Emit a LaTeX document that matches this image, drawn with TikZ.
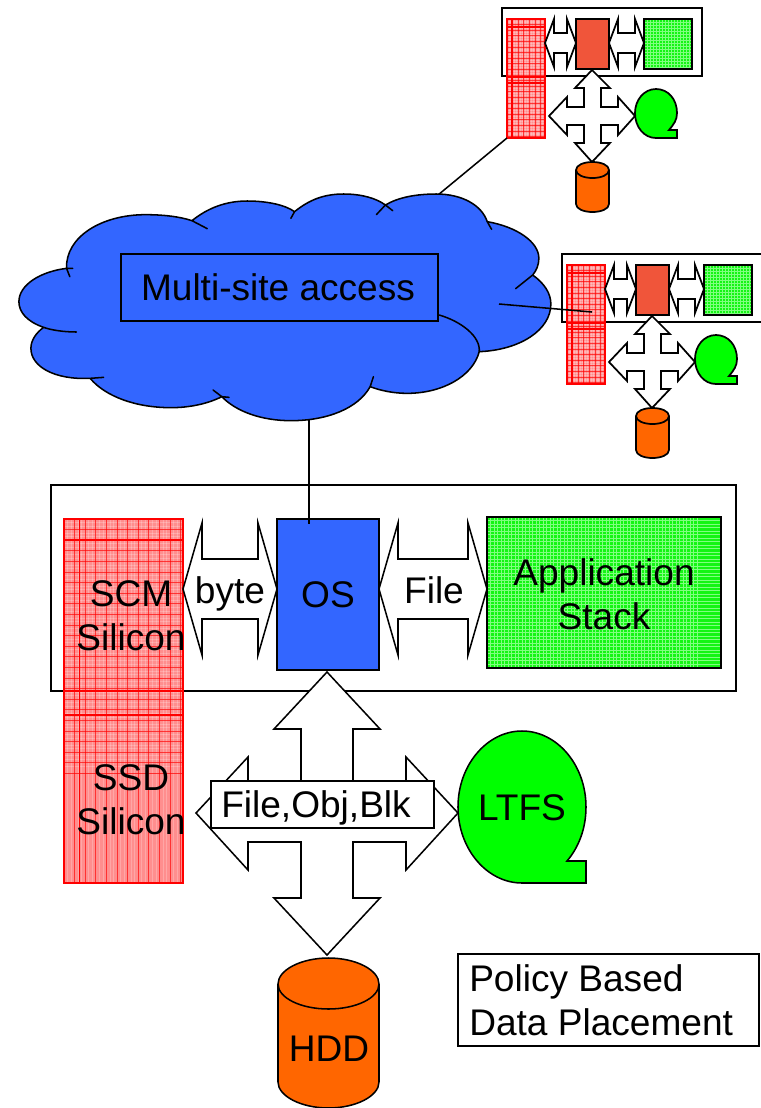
\documentclass[tikz,border=0pt]{standalone}
\usepackage{fontspec}
\setmainfont{Liberation Sans}
\definecolor{cblue}{HTML}{3366FF}
\definecolor{corange}{HTML}{FF6600}
\definecolor{cred}{HTML}{F0553A}
\definecolor{cgreen}{HTML}{00FF00}
\definecolor{tpink}{HTML}{FF8E8E}
\definecolor{tgreen}{HTML}{14F514}
\tikzset{
  line/.style={draw=black,line width=1.15pt,line join=miter},
  linebox/.style={line,fill=white},
  txt/.style={inner sep=0pt,align=center,font=\fontsize{27.8}{33}\selectfont},
  conn/.style={draw=black,line width=1.15pt},
}
% textured silicon: x1 y1 x2 y2 step
\newcommand{\siliconrect}[5]{%
  \fill[tpink] (#1,#2) rectangle (#3,#4);
  \begin{scope}
    \clip (#1,#2) rectangle (#3,#4);
    \foreach \k in {0,1,...,70} {
      \draw[white,opacity=.22,line width=.5pt] ({#1+\k*#5/3},#2) -- ({#1+\k*#5/3},#4);
      \draw[white,opacity=.22,line width=.5pt] (#1,{#2+\k*#5/3}) -- (#3,{#2+\k*#5/3});
    }
    \foreach \k in {0,1,...,24} {
      \draw[red,opacity=.7,line width=.55pt] ({#1+\k*#5},#2) -- ({#1+\k*#5},#4);
      \draw[red,opacity=.7,line width=.55pt] (#1,{#2+\k*#5}) -- (#3,{#2+\k*#5});
    }
  \end{scope}
}
\newcommand{\bandrect}[5]{%
  \fill[tgreen] (#1,#2) rectangle (#3,#4);
  \begin{scope}
    \clip (#1,#2) rectangle (#3,#4);
    \foreach \k in {0,1,...,60} {
      \draw[green!50!white,line width=.5pt] ({#1+\k*#5},#2) -- ({#1+\k*#5},#4);
      \draw[green!50!white,line width=.5pt] (#1,{#2+\k*#5}) -- (#3,{#2+\k*#5});
    }
  \end{scope}
  \draw[line] (#1,#2) rectangle (#3,#4);
}
% double arrow: x1 x2 ymid headdepth halfhead halfshaft
\newcommand{\twoway}[6]{%
  \draw[linebox] (#1,#3) -- ({#1+#4},{#3-#5}) -- ({#1+#4},{#3-#6}) -- ({#2-#4},{#3-#6}) -- ({#2-#4},{#3-#5})
    -- (#2,#3) -- ({#2-#4},{#3+#5}) -- ({#2-#4},{#3+#6}) -- ({#1+#4},{#3+#6}) -- ({#1+#4},{#3+#5}) -- cycle;
}
% small assembly, arg = name suffix
\newcommand{\minisite}[1]{%
  \tikzset{line/.append style={line width=1.3pt}}
  \coordinate (minibox#1) at (502,8);
  \draw[line] (502,8) rectangle (702,76);
  \siliconrect{507}{19}{545}{138}{5.6}
  \draw[red,line width=1.2pt] (507,19) rectangle (545,138);
  \draw[red,line width=1.1pt] (512,19) -- (512,138) (507,27) -- (545,27) (507,77) -- (545,77) (507,83) -- (545,83);
  \coordinate (minired#1) at (507,138);
  \twoway{545}{576}{43}{9}{24}{10}
  \path[line,fill=cred] (576,19) rectangle (609,69);
  \twoway{609}{644}{43}{9}{24}{10}
  \bandrect{644}{19}{692}{69}{3}
  \draw[linebox] (592,70) -- (610,88) -- (601,88) -- (601,107) -- (618,107) -- (618,97) -- (635,116)
    -- (618,135) -- (618,125) -- (601,125) -- (601,143) -- (610,143) -- (592,162) -- (575,143)
    -- (584,143) -- (584,125) -- (567,125) -- (567,135) -- (549,116) -- (567,97) -- (567,107)
    -- (584,107) -- (584,88) -- (575,88) -- cycle;
  \draw[line,fill=cgreen] (656,138) -- (677,138) -- (677,130) -- (669,130)
    .. controls (674,124) and (677,120) .. (677,113)
    .. controls (677,99) and (668,89) .. (656,89)
    .. controls (644,89) and (635,100) .. (635,113)
    .. controls (635,127) and (644,138) .. (656,138) -- cycle;
  \draw[line,fill=corange] (576,170) -- (576,204)
    .. controls (576,209) and (584,212) .. (592.5,212)
    .. controls (601,212) and (609,209) .. (609,204) -- (609,170)
    .. controls (609,165) and (601,162) .. (592.5,162)
    .. controls (584,162) and (576,165) .. (576,170) -- cycle;
  \draw[line] (576,170) .. controls (576,175) and (584,178) .. (592.5,178)
    .. controls (601,178) and (609,175) .. (609,170);
}
\begin{document}
\begin{tikzpicture}[x=0.75pt,y=-0.75pt]
\useasboundingbox (0,0) rectangle (761,1108);
\fill[white] (0,0) rectangle (761,1108);

% top connector
\coordinate (cloudtop) at (438,195);

% small assemblies
\begin{scope}
  \minisite{a}
\end{scope}
\begin{scope}[shift={(60,246)}]
  \minisite{b}
  \coordinate (minitarget) at (532,66);
\end{scope}
\draw[conn] (cloudtop) -- (minireda);

% cloud (coordinates in cloud-local units)
\begin{scope}[x=0.2727pt,y=-0.25pt,yshift=-135pt]
  \path[fill=cblue] (183,265)
    .. controls (180,170) and (280,104) .. (400,104)
    .. controls (450,104) and (495,110) .. (528,122)
    .. controls (570,85) and (620,63) .. (680,63)
    .. controls (735,63) and (785,75) .. (810,95)
    .. controls (850,60) and (890,42) .. (945,42)
    .. controls (995,42) and (1035,55) .. (1060,75)
    .. controls (1095,52) and (1145,42) .. (1200,42)
    .. controls (1270,42) and (1325,75) .. (1340,125)
    .. controls (1420,140) and (1482,185) .. (1482,235)
    .. controls (1482,255) and (1475,272) .. (1465,285)
    .. controls (1497,310) and (1515,340) .. (1515,372)
    .. controls (1515,450) and (1430,510) .. (1318,515)
    .. controls (1300,590) and (1215,640) .. (1120,640)
    .. controls (1085,640) and (1050,633) .. (1018,620)
    .. controls (985,685) and (900,722) .. (800,722)
    .. controls (720,722) and (650,695) .. (610,650)
    .. controls (570,672) and (520,683) .. (470,683)
    .. controls (375,683) and (290,650) .. (248,595)
    .. controls (150,600) and (85,560) .. (85,505)
    .. controls (85,480) and (100,458) .. (120,442)
    .. controls (75,425) and (52,397) .. (52,365)
    .. controls (52,315) and (110,275) .. (183,265) -- cycle;
  \draw[conn,line cap=round]
    (192,290) -- (183,265) .. controls (180,170) and (280,104) .. (400,104)
    .. controls (450,104) and (495,110) .. (528,122) -- (570,146)
    (528,122) .. controls (570,85) and (620,63) .. (680,63)
    .. controls (735,63) and (785,75) .. (810,95) -- (800,115)
    (810,95) .. controls (850,60) and (890,42) .. (945,42)
    .. controls (995,42) and (1035,55) .. (1060,75) -- (1080,92)
    (1035,104) -- (1060,75) .. controls (1095,52) and (1145,42) .. (1200,42)
    .. controls (1270,42) and (1325,75) .. (1340,125) -- (1352,148)
    (1340,125) .. controls (1420,140) and (1482,185) .. (1482,235)
    .. controls (1482,255) and (1475,272) .. (1465,285) -- (1418,326)
    (1465,285) .. controls (1497,310) and (1515,340) .. (1515,372)
    .. controls (1515,450) and (1430,510) .. (1318,515)
    (1208,405) .. controls (1270,425) and (1322,470) .. (1318,515)
    .. controls (1300,590) and (1215,640) .. (1120,640)
    .. controls (1085,640) and (1050,633) .. (1018,620) -- (1027,590)
    (1018,620) .. controls (985,685) and (900,722) .. (800,722)
    .. controls (720,722) and (650,695) .. (610,650) -- (586,630)
    (630,652) -- (610,650) .. controls (570,672) and (520,683) .. (470,683)
    .. controls (375,683) and (290,650) .. (248,595) -- (285,592)
    (248,595) .. controls (150,600) and (85,560) .. (85,505)
    .. controls (85,480) and (100,458) .. (120,442) .. controls (140,450) and (175,456) .. (210,456)
    (120,442) .. controls (75,425) and (52,397) .. (52,365)
    .. controls (52,315) and (110,275) .. (183,265) -- (200,265);
\end{scope}
\draw[line,fill=cblue] (121,254) rectangle (438,321);
\node[txt] (multisite) at (278,287) {Multi-site access};
\coordinate (cloudright) at (499,304);
\coordinate (cloudbottom) at (309,420);
\draw[conn] (cloudright) -- (minitarget);

% main frame
\draw[line,line width=1.1pt] (51,485) rectangle (736,691);
\coordinate (ostop) at (309,524);

% silicon column
\siliconrect{64}{519}{183}{883}{10.6}
\draw[red,line width=1.3pt] (64,519) rectangle (183,883);
\draw[red,line width=1.1pt] (79.5,519) -- (79.5,883) (64,540) -- (183,540) (64,691) -- (183,691) (64,715) -- (183,715);

\twoway{183}{277}{589}{19}{66}{30}
\twoway{379}{487}{589}{19}{66}{30}
\path[line,fill=cblue] (277,519) rectangle (379,670);
\bandrect{487}{517}{721}{668}{3.5}

% four-way arrow
\draw[linebox] (327,672) -- (380,729) -- (353,729) -- (353,784) -- (406,784) -- (406,757) -- (458,813)
  -- (406,870) -- (406,842) -- (353,842) -- (353,898) -- (380,898) -- (327,955) -- (274,898)
  -- (301,898) -- (301,842) -- (248,842) -- (248,870) -- (196,813) -- (248,757) -- (248,784)
  -- (301,784) -- (301,729) -- (274,729) -- cycle;
\draw[linebox] (211,781) rectangle (434,828);

% LTFS
\draw[line,fill=cgreen] (522,883) -- (586,883) -- (586,861) -- (567,861)
  .. controls (579,847) and (586,828) .. (586,807)
  .. controls (586,765) and (557,731) .. (522,731)
  .. controls (487,731) and (458,765) .. (458,807)
  .. controls (458,849) and (487,883) .. (522,883) -- cycle;

% HDD
\draw[line,fill=corange] (278,984) -- (278,1082)
  .. controls (278,1096) and (301,1108) .. (328.5,1108)
  .. controls (356,1108) and (379,1096) .. (379,1082) -- (379,984)
  .. controls (379,970) and (356,958) .. (328.5,958)
  .. controls (301,958) and (278,970) .. (278,984) -- cycle;
\draw[line] (278,984) .. controls (278,998) and (301,1009) .. (328.5,1009)
  .. controls (356,1009) and (379,998) .. (379,984);

% policy box
\draw[line] (458,954) rectangle (759,1046);

% long connector
\draw[conn] (cloudbottom) -- (ostop);

% texts
\node[txt] (scm) at (131,616) {SCM\\Silicon};
\node[txt] (ssd) at (131,800) {SSD\\Silicon};
\node[txt] (byte) at (230,594) {byte};
\node[txt] (os) at (328,595) {OS};
\node[txt] (file) at (434,590) {File};
\node[txt] (stack) at (604,594) {Application\\Stack};
\node[txt] (fob) at (316,808) {File,Obj,Blk};
\node[txt] (ltfs) at (522,808) {LTFS};
\node[txt] (hdd) at (329,1049) {HDD};
\node[txt,align=left,anchor=west] (policy) at (469,1000) {Policy Based\\Data Placement};
\end{tikzpicture}
\end{document}
